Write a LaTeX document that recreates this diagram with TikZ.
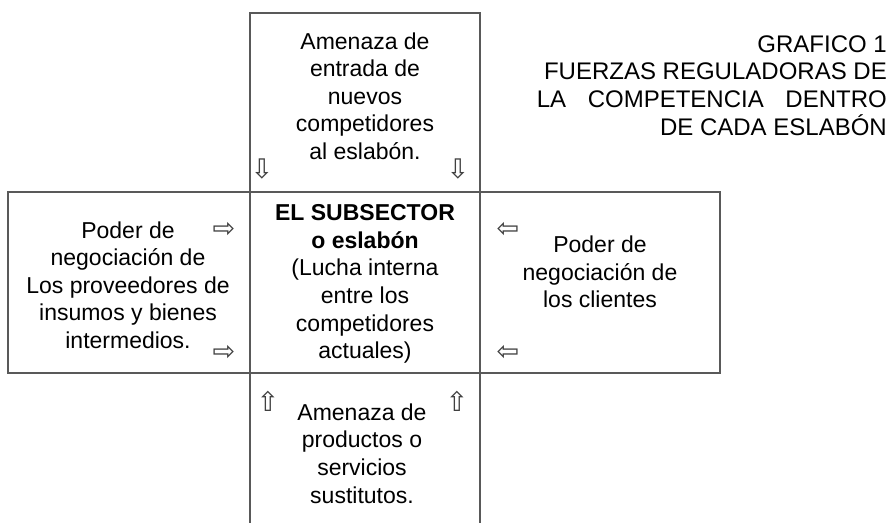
\documentclass[tikz,border=0pt]{standalone}
\usepackage{fontspec}
\setmainfont{Liberation Sans}
\newfontfamily\symfont{DejaVu Sans}
\usetikzlibrary{positioning}

\tikzset{
    caja/.style={draw=black!65, line width=1.6pt, inner sep=0pt, outer sep=0pt},
    texto/.style={align=center, inner sep=0pt, font=\fontsize{23}{27.6}\selectfont},
    flecha/.style={inner sep=0pt, text=black!75, font=\symfont\fontsize{27}{27}\selectfont}
}

\begin{document}
\begin{tikzpicture}[x=1pt, y=-1pt]
    \useasboundingbox (0,0) rectangle (894,523);

    % Draw the boxes of the cross
    \node[caja, minimum width=230pt, minimum height=179pt] (entrada) at (365,102.5) {};
    \node[caja, minimum width=230pt, minimum height=181pt] (subsector) at (365,282.5) {};
    \node[caja, minimum width=242pt, minimum height=181pt] (proveedores) at (129,282.5) {};
    \node[caja, minimum width=240pt, minimum height=181pt] (clientes) at (600,282.5) {};
    % bottom box is open below
    \coordinate (sustA) at (250,523);
    \coordinate (sustB) at (480,523);
    \draw[black!65, line width=1.6pt] (subsector.south west) -- (sustA);
    \draw[black!65, line width=1.6pt] (subsector.south east) -- (sustB);

    % Draw the texts
    \node[texto] (entradaT) at (365,96) {Amenaza de\\entrada de\\nuevos\\competidores\\al eslabón.};
    \node[texto] (subsectorT) at (365,284) {\textbf{EL SUBSECTOR}\\\textbf{o eslabón}\\(Lucha interna\\entre los\\competidores\\actuales)};
    \node[texto] (proveedoresT) at (128,285) {Poder de\\negociación de\\Los proveedores de\\insumos y bienes\\intermedios.};
    \node[texto] (clientesT) at (600,272) {Poder de\\negociación de\\los clientes};
    \node[texto] (sustitutosT) at (362,453.5) {Amenaza de\\productos o\\servicios\\sustitutos.};

    % Draw the title
    \node[align=right, inner sep=0pt, anchor=east, font=\fontsize{24}{27.6}\selectfont] (titulo) at (887,85.5)
        {GRAFICO 1\\FUERZAS REGULADORAS DE\\\makebox[350pt][s]{LA COMPETENCIA DENTRO}\\DE CADA ESLABÓN};

    % Draw the arrows of the forces
    \node[flecha] (f1) at (262,169) {⇩};
    \node[flecha] (f2) at (458,169) {⇩};
    \node[flecha] (f3) at (224,230) {⇨};
    \node[flecha] (f4) at (224,353) {⇨};
    \node[flecha] (f5) at (508,230) {⇦};
    \node[flecha] (f6) at (508,353) {⇦};
    \node[flecha] (f7) at (268,401) {⇧};
    \node[flecha] (f8) at (457,401) {⇧};
\end{tikzpicture}
\end{document}
